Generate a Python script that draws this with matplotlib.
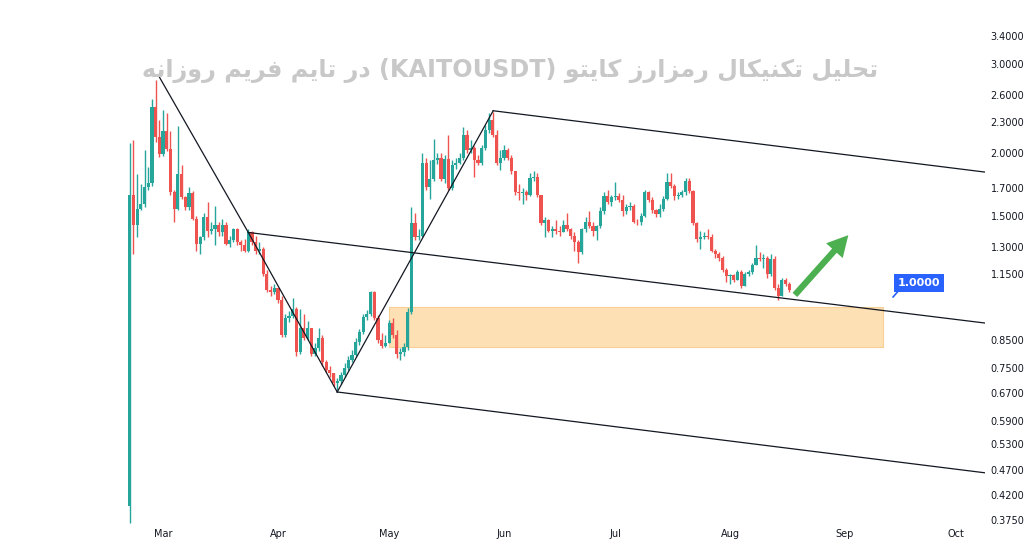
import matplotlib
matplotlib.use("Agg")
import matplotlib.pyplot as plt
import matplotlib.dates as mdates
from matplotlib.patches import Rectangle
import pandas as pd
import numpy as np

# daily KAITO/USDT candles, 2025-02-20 .. 2025-08-17
start = "2025-02-20"
first_open = 0.40
close = [1.65, 1.44, 1.55, 1.58, 1.71, 1.74, 2.46, 2.15, 1.99, 2.21, 2.03, 1.67, 1.55, 1.81, 1.63,
         1.56, 1.66, 1.48, 1.32, 1.36, 1.49, 1.40, 1.41, 1.44, 1.39, 1.44, 1.32, 1.34, 1.41, 1.33,
         1.31, 1.28, 1.39, 1.33, 1.28, 1.29, 1.15, 1.07, 1.06, 1.08, 1.02, 0.87, 0.94, 0.95, 0.98,
         0.805, 0.90, 0.86, 0.90, 0.80, 0.82, 0.86, 0.77, 0.743, 0.733, 0.70, 0.705, 0.726, 0.75, 0.777,
         0.795, 0.845, 0.883, 0.945, 0.96, 1.06, 0.94, 0.85, 0.83, 0.84, 0.92, 0.87, 0.80, 0.805, 0.825,
         0.966, 1.45, 1.36, 1.37, 1.91, 1.71, 1.77, 1.93, 1.95, 1.77, 1.94, 1.70, 1.89, 1.91, 1.95,
         2.17, 2.02, 2.04, 1.93, 1.91, 2.04, 2.22, 2.32, 2.17, 1.91, 1.95, 2.02, 1.95, 1.84, 1.67,
         1.66, 1.67, 1.65, 1.78, 1.79, 1.65, 1.45, 1.47, 1.40, 1.41, 1.40, 1.39, 1.44, 1.41, 1.37,
         1.33, 1.27, 1.41, 1.46, 1.43, 1.40, 1.43, 1.53, 1.64, 1.60, 1.63, 1.64, 1.61, 1.53, 1.56,
         1.57, 1.46, 1.455, 1.50, 1.67, 1.61, 1.54, 1.51, 1.55, 1.62, 1.75, 1.72, 1.64, 1.65, 1.67,
         1.76, 1.68, 1.45, 1.35, 1.36, 1.37, 1.36, 1.28, 1.26, 1.24, 1.17, 1.14, 1.145, 1.12, 1.16,
         1.09, 1.15, 1.16, 1.20, 1.24, 1.23, 1.24, 1.15, 1.23, 1.08, 1.04, 1.12, 1.10, 1.07]
high = [2.09, 2.12, 1.81, 1.73, 2.02, 1.87, 2.55, 2.78, 2.32, 2.43, 2.39, 2.21, 1.69, 2.26, 1.89,
        1.64, 1.71, 1.68, 1.50, 1.37, 1.52, 1.60, 1.46, 1.57, 1.46, 1.48, 1.46, 1.37, 1.42, 1.42,
        1.34, 1.35, 1.41, 1.40, 1.37, 1.33, 1.30, 1.17, 1.09, 1.10, 1.08, 1.04, 0.96, 0.97, 1.03,
        0.99, 0.98, 0.96, 0.93, 0.90, 0.84, 0.90, 0.87, 0.777, 0.757, 0.733, 0.716, 0.737, 0.767, 0.79,
        0.813, 0.86, 0.895, 0.96, 0.976, 1.065, 1.065, 0.954, 0.88, 0.87, 0.933, 0.94, 0.89, 0.82, 0.84,
        0.985, 1.56, 1.52, 1.41, 2.00, 1.95, 1.93, 2.13, 2.00, 2.00, 1.98, 2.17, 1.93, 1.95, 2.00,
        2.25, 2.22, 2.12, 2.06, 1.98, 2.07, 2.27, 2.40, 2.41, 2.22, 2.02, 2.07, 2.04, 1.98, 1.80,
        1.73, 1.70, 1.69, 1.82, 1.84, 1.82, 1.65, 1.49, 1.48, 1.43, 1.47, 1.43, 1.47, 1.52, 1.42,
        1.39, 1.34, 1.42, 1.49, 1.53, 1.46, 1.44, 1.56, 1.67, 1.69, 1.65, 1.75, 1.66, 1.65, 1.58,
        1.60, 1.58, 1.48, 1.52, 1.69, 1.68, 1.63, 1.55, 1.58, 1.64, 1.82, 1.82, 1.73, 1.67, 1.69,
        1.78, 1.78, 1.69, 1.46, 1.40, 1.39, 1.41, 1.38, 1.29, 1.27, 1.25, 1.18, 1.15, 1.15, 1.17,
        1.17, 1.16, 1.17, 1.21, 1.31, 1.27, 1.26, 1.25, 1.26, 1.25, 1.10, 1.13, 1.13, 1.11]
low = [0.37, 1.26, 1.36, 1.54, 1.56, 1.69, 1.72, 2.10, 1.96, 1.97, 2.01, 1.65, 1.46, 1.54, 1.62,
       1.54, 1.54, 1.47, 1.28, 1.26, 1.34, 1.36, 1.38, 1.31, 1.37, 1.37, 1.31, 1.30, 1.33, 1.31,
       1.28, 1.27, 1.27, 1.31, 1.26, 1.26, 1.14, 1.06, 1.04, 1.05, 1.01, 0.865, 0.865, 0.925, 0.94,
       0.79, 0.80, 0.85, 0.85, 0.79, 0.79, 0.81, 0.757, 0.737, 0.72, 0.69, 0.678, 0.697, 0.72, 0.743,
       0.77, 0.79, 0.833, 0.875, 0.933, 0.95, 0.933, 0.84, 0.82, 0.825, 0.84, 0.86, 0.785, 0.777, 0.79,
       0.813, 0.96, 1.34, 1.34, 1.36, 1.69, 1.62, 1.76, 1.90, 1.76, 1.74, 1.69, 1.69, 1.86, 1.90,
       1.93, 2.00, 2.00, 1.79, 1.89, 1.89, 2.02, 2.19, 2.15, 1.89, 1.85, 1.93, 1.93, 1.81, 1.65,
       1.61, 1.58, 1.61, 1.64, 1.76, 1.63, 1.44, 1.36, 1.39, 1.36, 1.38, 1.37, 1.39, 1.40, 1.35,
       1.28, 1.21, 1.26, 1.39, 1.42, 1.37, 1.34, 1.42, 1.51, 1.58, 1.57, 1.61, 1.60, 1.50, 1.51,
       1.54, 1.45, 1.44, 1.44, 1.49, 1.60, 1.52, 1.49, 1.49, 1.53, 1.61, 1.70, 1.61, 1.62, 1.63,
       1.65, 1.66, 1.44, 1.33, 1.29, 1.35, 1.35, 1.27, 1.24, 1.22, 1.16, 1.11, 1.10, 1.11, 1.12,
       1.08, 1.10, 1.14, 1.15, 1.20, 1.22, 1.18, 1.13, 1.14, 1.07, 1.02, 1.04, 1.09, 1.06]

# drawn trend lines (date, price)
drop_line = [("2025-02-27 16:00", 2.85), ("2025-03-24 00:00", 1.39), ("2025-04-17 00:00", 0.672)]
rally_line = [("2025-04-17 00:00", 0.672), ("2025-05-29 02:00", 2.42)]
channel_top = [("2025-05-29 02:00", 2.42), ("2025-10-08 19:00", 1.83)]
channel_mid = [("2025-03-24 00:00", 1.39), ("2025-10-08 19:00", 0.92)]
channel_low = [("2025-04-17 00:00", 0.672), ("2025-10-08 19:00", 0.465)]
zone_dates = ("2025-05-01 00:00", "2025-09-11 07:00")
zone_prices = (0.825, 0.99)
arrow_from = ("2025-08-18 00:00", 1.036)
arrow_to = ("2025-09-02 10:00", 1.386)
tag_anchor = ("2025-09-14 00:00", 1.036)
tag_pos = ("2025-09-21 00:00", 1.104)
tag_text = "1.0000"
month_ticks = ["2025-03-01", "2025-04-01", "2025-05-01", "2025-06-01",
               "2025-07-01", "2025-08-01", "2025-09-01", "2025-10-01"]
price_ticks = [0.375, 0.42, 0.47, 0.53, 0.59, 0.67, 0.75, 0.85, 1.15, 1.3, 1.5, 1.7, 2.0, 2.3, 2.6, 3.0, 3.4]
title = "تحلیل تکنیکال رمزارز کایتو (KAITOUSDT) در تایم فریم روزانه"

# minimal Persian shaping: isolated, final, initial, medial
FORMS = {
    "ا": ("\uFE8D", "\uFE8E", None, None),
    "ت": ("\uFE95", "\uFE96", "\uFE97", "\uFE98"),
    "ح": ("\uFEA1", "\uFEA2", "\uFEA3", "\uFEA4"),
    "د": ("\uFEA9", "\uFEAA", None, None),
    "ر": ("\uFEAD", "\uFEAE", None, None),
    "ز": ("\uFEAF", "\uFEB0", None, None),
    "ف": ("\uFED1", "\uFED2", "\uFED3", "\uFED4"),
    "ک": ("\uFB8E", "\uFB8F", "\uFB90", "\uFB91"),
    "ل": ("\uFEDD", "\uFEDE", "\uFEDF", "\uFEE0"),
    "م": ("\uFEE1", "\uFEE2", "\uFEE3", "\uFEE4"),
    "ن": ("\uFEE5", "\uFEE6", "\uFEE7", "\uFEE8"),
    "ه": ("\uFEE9", "\uFEEA", "\uFEEB", "\uFEEC"),
    "و": ("\uFEED", "\uFEEE", None, None),
    "ی": ("\uFBFC", "\uFBFD", "\uFBFE", "\uFBFF"),
}


def shape_word(word):
    if not all(ch in FORMS for ch in word):
        return word
    out = []
    for i, ch in enumerate(word):
        f = FORMS[ch]
        join_prev = i > 0 and FORMS[word[i - 1]][2] is not None
        join_next = i < len(word) - 1 and f[2] is not None
        if join_prev and join_next:
            out.append(f[3])
        elif join_prev:
            out.append(f[1])
        elif join_next:
            out.append(f[2])
        else:
            out.append(f[0])
    return "".join(reversed(out))


def rtl(text):
    return " ".join(shape_word(w) for w in reversed(text.split(" ")))


dates = pd.date_range(start, periods=len(close), freq="D")
x = mdates.date2num(dates)
o = np.array([first_open] + close[:-1])
c = np.array(close)
h = np.maximum(np.array(high), np.maximum(o, c))
l = np.minimum(np.array(low), np.minimum(o, c))

up_col, dn_col = "#26a69a", "#ef5350"
cols = np.where(c >= o, up_col, dn_col)

fig = plt.figure(figsize=(10.24, 5.43), dpi=100)
ax = fig.add_axes([0, 18 / 543, 985 / 1024, 525 / 543])
ax.set_yscale("log")

ax.vlines(x, l, h, colors=cols, linewidth=1.0, zorder=2)
ax.bar(x, np.abs(c - o), bottom=np.minimum(o, c), width=0.85, color=cols, linewidth=0, zorder=3)


def pts(seq):
    return mdates.date2num(pd.to_datetime([d for d, _ in seq], format="ISO8601")), [p for _, p in seq]


for seg in (drop_line, rally_line, channel_top, channel_mid, channel_low):
    xs, ys = pts(seg)
    ax.plot(xs, ys, color="#131722", linewidth=0.9, zorder=4)

zx = mdates.date2num(pd.to_datetime(list(zone_dates), format="ISO8601"))
ax.add_patch(Rectangle((zx[0], zone_prices[0]), zx[1] - zx[0], zone_prices[1] - zone_prices[0],
                       facecolor="#fde0b4", edgecolor="#f8cf95", linewidth=0.8, zorder=1))

(ax0, ax1), (ay0, ay1) = pts([arrow_from, arrow_to])
ax.annotate("", xy=(ax1, ay1), xytext=(ax0, ay0),
            arrowprops=dict(arrowstyle="simple,head_width=1.6,head_length=1.5,tail_width=0.45",
                            color="#4caf50", linewidth=0), zorder=5)

(tx0, tx1), (ty0, ty1) = pts([tag_anchor, tag_pos])
ax.plot([tx0, tx1 - 4.5], [ty0, ty1 * 0.985], color="#2962ff", linewidth=1.2, zorder=5)
ax.text(tx1, ty1, tag_text, color="white", fontsize=8, fontweight="bold", ha="center", va="center",
        bbox=dict(boxstyle="square,pad=0.35", facecolor="#2962ff", edgecolor="none"), zorder=6)

x0 = mdates.date2num(pd.Timestamp(start))
ax.set_xlim(x0 - 35.0, x0 + 230.8)
ax.set_ylim(0.3666, 4.008)

ax.set_xticks(mdates.date2num(pd.to_datetime(month_ticks)))
ax.xaxis.set_major_formatter(mdates.DateFormatter("%b"))
ax.yaxis.tick_right()
ax.set_yticks(price_ticks)
ax.set_yticklabels([f"{p:.4f}" for p in price_ticks])
ax.yaxis.set_minor_locator(matplotlib.ticker.NullLocator())
ax.tick_params(axis="both", length=0, labelsize=7, colors="#131722")
ax.tick_params(axis="y", pad=4)
ax.tick_params(axis="x", pad=3)
for s in ax.spines.values():
    s.set_visible(False)

fig.text(0.498, 0.871, rtl(title), fontsize=17.2, fontweight="bold", color="#c8c8c8",
         ha="center", va="center", family=["DejaVu Sans"])

fig.savefig("out.png", dpi=100, facecolor="white")
